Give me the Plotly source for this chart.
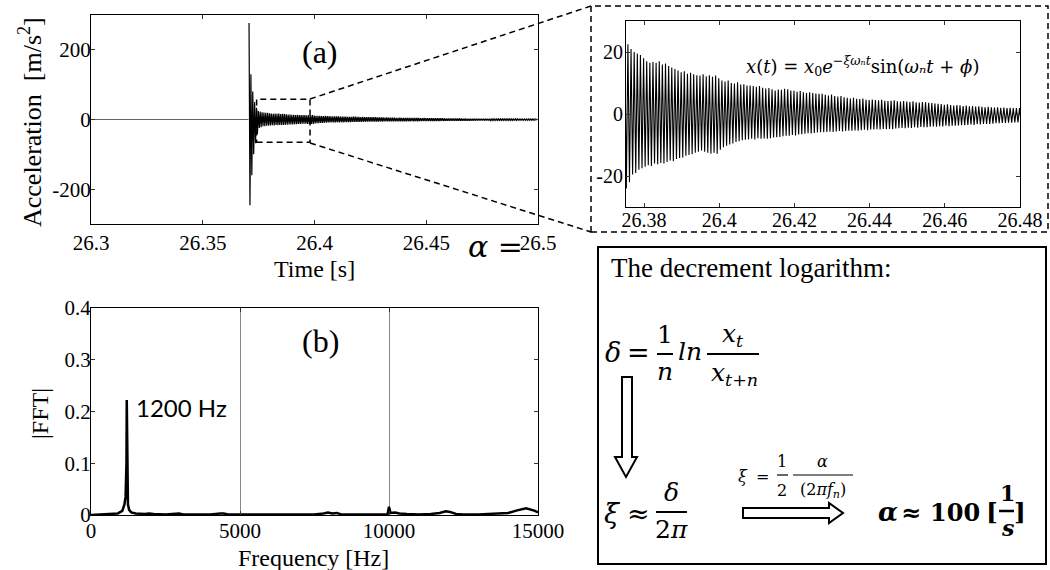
import plotly.graph_objects as go

# ---------------- data ----------------
F_N = 1200.0            # natural frequency [Hz] (FFT peak)
T_TRIGGER = 26.3705     # start of the impact [s]
pre_t = [26.3, 26.3705]
pre_v = [0.0, 0.0]

# peak values per cycle (upper / lower extremes)
spike_upper = [277, 130, 80, 50, 34]
spike_lower = [-246, -160, -100, -68, -42]

decay_upper = [24.0, 22.5, 21.0, 20.0, 19.5, 19.0, 18.0, 17.0, 16.5, 16.8,
               16.5, 17.0, 16.0, 16.3, 15.5, 15.0, 14.5, 14.0, 13.5, 13.8,
               13.0, 13.3, 12.8, 12.5, 12.4, 12.8, 12.2, 12.5, 12.0, 12.4,
               11.5, 10.8, 10.5, 10.8, 10.0, 9.8, 10.2, 9.5, 9.6, 9.2,
               9.2, 9.0, 8.8, 9.0, 8.5, 8.2, 8.4, 8.0, 7.6, 7.9,
               7.8, 8.1, 8.0, 7.6, 7.5, 7.2, 7.4, 7.0, 6.8, 7.0,
               6.8, 6.6, 6.5, 6.5, 6.2, 6.0, 6.3, 5.8, 5.6, 5.8,
               5.4, 5.2, 5.0, 5.2, 4.9, 4.8, 5.0, 4.6, 4.5, 4.7,
               4.5, 4.4, 4.6, 4.3, 4.2, 4.3, 4.4, 4.1, 4.0, 4.2,
               4.0, 3.9, 4.1, 3.8, 3.7, 3.9, 3.8, 3.6, 3.5, 3.4,
               3.3, 3.2, 3.0, 3.1, 2.9, 2.7, 2.9, 2.8, 2.6, 2.7,
               2.5, 2.6, 2.4, 2.5, 2.3, 2.2, 2.3, 2.2, 2.1, 2.2,
               2.0, 2.1, 1.9, 2.0, 1.9, 1.9]
decay_lower = [-24.0, -22.0, -19.5, -19.0, -18.0, -17.5, -17.0, -16.5, -16.8, -16.0,
               -16.2, -15.8, -16.0, -15.5, -15.0, -15.2, -14.5, -14.2, -14.0, -13.5,
               -13.2, -13.0, -12.5, -12.2, -11.8, -12.2, -12.5, -12.8, -12.5, -12.8,
               -11.5, -10.7, -10.2, -9.8, -9.5, -9.0, -8.8, -8.5, -8.3, -8.2,
               -8.0, -8.2, -7.8, -8.0, -7.9, -8.0, -7.8, -7.6, -7.5, -7.4,
               -7.2, -7.0, -7.0, -6.8, -6.9, -6.6, -6.5, -6.4, -6.2, -6.3,
               -6.1, -6.0, -5.9, -5.9, -5.8, -5.7, -5.8, -5.6, -5.5, -5.6,
               -5.5, -5.4, -5.4, -5.3, -5.4, -5.2, -5.1, -5.2, -5.0, -5.0,
               -4.9, -5.0, -4.8, -4.9, -4.8, -4.9, -4.7, -4.6, -4.5, -4.6,
               -4.4, -4.5, -4.3, -4.4, -4.2, -4.3, -4.3, -4.1, -4.0, -4.1,
               -3.9, -4.0, -3.8, -3.9, -3.8, -3.8, -3.7, -3.6, -3.6, -3.5,
               -3.4, -3.5, -3.3, -3.4, -3.2, -3.2, -3.2, -3.1, -3.0, -3.0,
               -2.9, -2.9, -2.8, -2.8, -2.7, -2.7]
tail_upper = [1.9, 1.8, 1.9, 1.8, 1.7, 1.8, 1.7, 1.8, 1.7, 1.6, 1.7, 1.6,
              1.6, 1.7, 1.6, 1.5, 1.6, 1.5, 1.6, 1.5, 1.5, 1.4, 1.5, 1.4]
tail_lower = [-2.6, -2.7, -2.6, -2.5, -2.6, -2.5, -2.5, -2.4, -2.5, -2.4, -2.4, -2.3,
              -2.4, -2.3, -2.3, -2.2, -2.3, -2.2, -2.2, -2.1, -2.2, -2.1, -2.1, -2.0]

fft_freq = [0, 500, 900, 1050, 1120, 1160, 1180, 1190, 1200, 1210, 1220, 1240, 1280,
            1350, 1500, 1800, 1950, 2100, 2500, 2850, 2950, 3100, 4000, 4350, 4450,
            4600, 6000, 7500, 7800, 7950, 8100, 8250, 8400, 9000, 9950, 10000, 10050,
            10200, 10350, 10600, 11000, 11400, 11700, 11900, 12050, 12250, 12500,
            13000, 13600, 14000, 14300, 14600, 14900, 15000]
fft_mag = [0, 0.001, 0.003, 0.008, 0.02, 0.035, 0.06, 0.1, 0.222, 0.09, 0.04, 0.02, 0.01,
           0.005, 0.003, 0.002, 0.003, 0.002, 0.001, 0.003, 0.003, 0.001, 0.001, 0.003, 0.003,
           0.001, 0.001, 0.001, 0.003, 0.005, 0.003, 0.004, 0.001, 0.001, 0.001, 0.016, 0.004,
           0.005, 0.003, 0.002, 0.001, 0.002, 0.004, 0.007, 0.006, 0.002, 0.001,
           0.001, 0.002, 0.004, 0.009, 0.013, 0.008, 0.005]

a_ticks = [26.3, 26.35, 26.4, 26.45, 26.5]
a_yticks = [-200, 0, 200]
in_ticks = [26.38, 26.40, 26.42, 26.44, 26.46, 26.48]
in_ticktext = ["26.38", "26.4", "26.42", "26.44", "26.46", "26.48"]
in_yticks = [-20, 0, 20]
fft_xticks = [0, 5000, 10000, 15000]
fft_yticks = [0, 0.1, 0.2, 0.3, 0.4]
fft_yticktext = ["0", "0.1", "0.2", "0.3", "0.4"]

# assemble the time signal: alternating extremes, one per half period
ups = spike_upper + decay_upper + tail_upper
lows = spike_lower + decay_lower + tail_lower
sig_t, sig_v = [], []
for k, (u, l) in enumerate(zip(ups, lows)):
    sig_t += [T_TRIGGER + (k + 0.25) / F_N, T_TRIGGER + (k + 0.75) / F_N]
    sig_v += [u, l]

# ---------------- figure ----------------
W, H = 1050, 570
def px(x): return x / W
def py(y): return 1 - y / H

SERIF = "Liberation Serif"
MATH = "DejaVu Serif"

fig = go.Figure()
fig.add_trace(go.Scatter(x=pre_t, y=pre_v, mode="lines", line=dict(color="#666", width=1),
                         xaxis="x", yaxis="y", showlegend=False, hoverinfo="skip"))
fig.add_trace(go.Scatter(x=sig_t, y=sig_v, mode="lines", line=dict(color="black", width=1.2),
                         xaxis="x", yaxis="y", showlegend=False))
fig.add_trace(go.Scatter(x=sig_t, y=sig_v, mode="lines", line=dict(color="black", width=1.1),
                         xaxis="x2", yaxis="y2", showlegend=False))
fig.add_trace(go.Scatter(x=fft_freq, y=fft_mag, mode="lines", line=dict(color="black", width=2.5),
                         xaxis="x3", yaxis="y3", showlegend=False))

def ax(**kw):
    d = dict(showline=True, linecolor="black", linewidth=1, mirror="ticks", ticks="inside",
             ticklen=4, tickcolor="#333", showgrid=False, zeroline=False, fixedrange=True,
             automargin=False,
             tickfont=dict(family=SERIF, size=21, color="black"))
    d.update(kw)
    return d

fig.update_layout(
    template="none",
    width=W, height=H, margin=dict(l=0, r=0, t=0, b=0, autoexpand=False),
    paper_bgcolor="white", plot_bgcolor="white", showlegend=False,
    xaxis=ax(domain=[px(91), px(538)], range=[26.3, 26.5], tickvals=a_ticks,
             ticktext=[str(v) for v in a_ticks], anchor="y"),
    yaxis=ax(domain=[py(224), py(15)], range=[-300, 300], tickvals=a_yticks,
             ticktext=[str(v) for v in a_yticks], anchor="x", ticklabelstandoff=-5),
    xaxis2=ax(domain=[px(626), px(1020)], range=[26.3752, 26.48], tickvals=in_ticks,
              ticktext=in_ticktext, anchor="y2", ticklabelstandoff=-5,
              tickfont=dict(family=SERIF, size=20, color="black")),
    yaxis2=ax(domain=[py(207), py(21)], range=[-30, 30], tickvals=in_yticks,
              ticktext=[str(v) for v in in_yticks], anchor="x2", ticklabelstandoff=-2,
              tickfont=dict(family=SERIF, size=20, color="black")),
    xaxis3=ax(domain=[px(91), px(538)], range=[0, 15000], tickvals=fft_xticks,
              ticktext=[str(v) for v in fft_xticks], anchor="y3", showgrid=True,
              gridcolor="#888", gridwidth=1, ticklabelstandoff=-3),
    yaxis3=ax(domain=[py(515), py(308)], range=[0, 0.4], tickvals=fft_yticks,
              ticktext=fft_yticktext, anchor="x3", ticklabelstandoff=-5),
)

shapes = []
def line(x0, y0, x1, y1, w=2, dash="solid"):
    shapes.append(dict(type="line", xref="paper", yref="paper", x0=px(x0), y0=py(y0),
                       x1=px(x1), y1=py(y1), line=dict(color="black", width=w, dash=dash)))
def path(pts, w=2):
    d = "M " + " L ".join(f"{px(x):.5f},{py(y):.5f}" for x, y in pts) + " Z"
    shapes.append(dict(type="path", xref="paper", yref="paper", path=d,
                       line=dict(color="black", width=w), fillcolor="white"))

DASH = "6px,4px"
# zoom box in (a) in data coordinates
shapes.append(dict(type="rect", xref="x", yref="y", x0=26.3741, x1=26.398, y0=-65, y1=58,
                   line=dict(color="black", width=1.5, dash=DASH)))
# connecting dashed lines and inset frame
line(310, 99, 591, 6, 1.5, DASH)
line(310, 143, 591, 232, 1.5, DASH)
shapes.append(dict(type="rect", xref="paper", yref="paper", x0=px(591), x1=px(1048),
                   y0=py(232), y1=py(6), line=dict(color="black", width=1.5, dash=DASH)))
# formula box
shapes.append(dict(type="rect", xref="paper", yref="paper", x0=px(598), x1=px(1046),
                   y0=py(564), y1=py(247), line=dict(color="black", width=2)))
# fraction bars
line(657, 354, 673, 354, 2)
line(707, 354, 759, 354, 2)
line(656, 512, 687, 512, 2)
line(777, 475, 788, 475, 1.2)
line(793, 475, 853, 475, 1.2)
line(999, 511, 1014, 511, 2.5)
# hollow arrows
path([(622, 377), (632, 377), (632, 457), (637, 457), (626, 477), (615, 457), (622, 457)], 2)
path([(743, 508), (829, 508), (829, 503), (843, 513), (829, 523), (829, 518), (743, 518)], 2)

ann = []
def txt(x, y, s, size, family=SERIF, xanchor="center", angle=0):
    ann.append(dict(x=px(x), y=py(y), xref="paper", yref="paper", text=s, showarrow=False,
                    font=dict(size=size, family=family, color="black"), xanchor=xanchor,
                    yanchor="middle", textangle=angle, borderpad=0))

txt(30, 122, "Acceleration  [m/s<sup>2</sup>]", 26, angle=-90)
txt(314, 269, "Time [s]", 24)
txt(320, 52, "(a)", 32)
txt(40, 414, "|FFT|", 24, angle=-90)
txt(313, 558, "Frequency [Hz]", 24)
txt(320, 341, "(b)", 32)
txt(181, 407, "1200 Hz", 24, family="Lato")
txt(495, 246, "<i>α</i> =", 30, family=MATH)

txt(862, 66, "<i>x</i>(<i>t</i>) = <i>x</i><sub>0</sub><i>e</i><sup>−<i>ξωₙt</i></sup>sin(<i>ωₙt</i> + <i>ϕ</i>)", 18, family=MATH)
txt(751, 268, "The decrement logarithm:", 27)

txt(613, 352, "<i>δ</i>", 27, family=MATH)
txt(638, 352, "=", 27, family=MATH)
txt(665, 334, "1", 25, family=MATH)
txt(665, 371, "<i>n</i>", 25, family=MATH)
txt(690, 351, "<i>ln</i>", 25, family=MATH)
txt(733, 335, "<i>x<sub>t</sub></i>", 25, family=MATH)
txt(734, 374, "<i>x<sub>t+n</sub></i>", 25, family=MATH)

txt(612, 513, "<i>ξ</i>", 27, family=MATH)
txt(638, 513, "≈", 27, family=MATH)
txt(671, 492, "<i>δ</i>", 25, family=MATH)
txt(671, 529, "2<i>π</i>", 25, family=MATH)

txt(743, 476, "<i>ξ</i>", 16, family=MATH)
txt(762, 476, "=", 16, family=MATH)
txt(782, 461, "1", 16, family=MATH)
txt(782, 490, "2", 16, family=MATH)
txt(822, 461, "<i>α</i>", 16, family=MATH)
txt(823, 490, "(2<i>πf<sub>n</sub></i>)", 16, family=MATH)

txt(888, 512, "<b><i>α</i></b>", 26, family=MATH)
txt(911, 512, "<b>≈</b>", 24, family=MATH)
txt(955, 512, "<b>100</b>", 24, family=MATH)
txt(992, 512, "<b>[</b>", 25, family=MATH)
txt(1007, 493, "<b>1</b>", 22, family=MATH)
txt(1007, 528, "<b><i>s</i></b>", 22, family=MATH)
txt(1020, 512, "<b>]</b>", 25, family=MATH)

fig.update_layout(shapes=shapes, annotations=ann)
fig.write_html("out.html")
